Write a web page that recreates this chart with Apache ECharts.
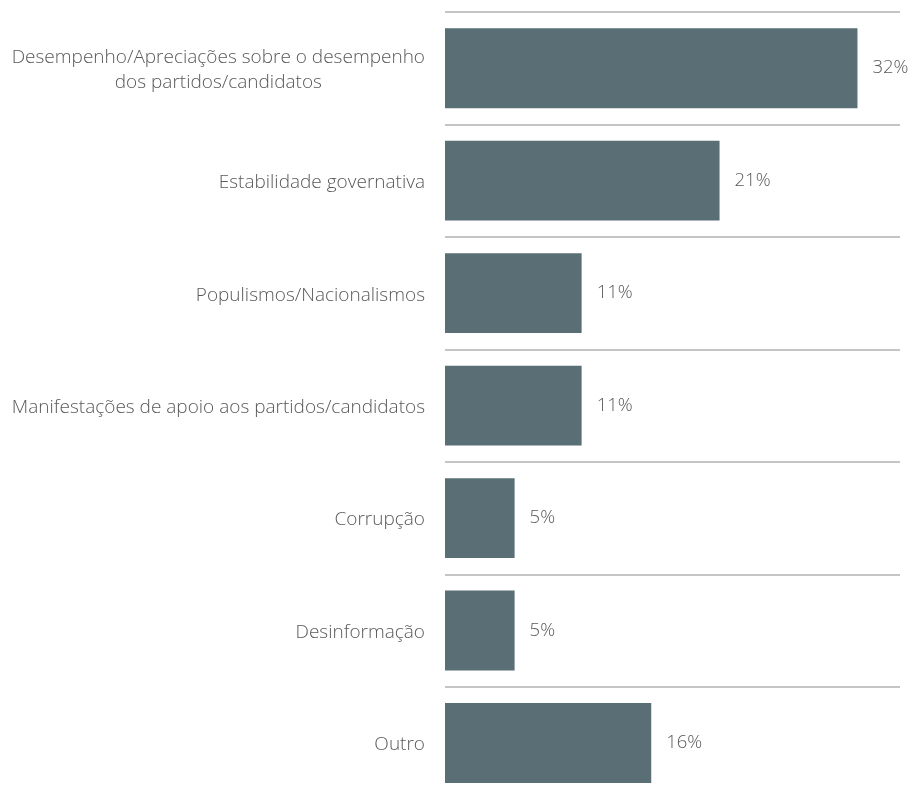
<!DOCTYPE html>
<html>
<head>
<meta charset="utf-8">
<script src="https://cdn.jsdelivr.net/npm/echarts@6/dist/echarts.min.js"></script>
<style>
html,body{margin:0;padding:0;background:#fff;overflow:hidden;height:795px;}
#chart{width:915px;height:800px;}
</style>
</head>
<body>
<div id="chart"></div>
<script>
// categorias (de cima para baixo) e valores
var categorias = [
    'Desempenho/Apreciações sobre o desempenho\ndos partidos/candidatos',
    'Estabilidade governativa',
    'Populismos/Nacionalismos',
    'Manifestações de apoio aos partidos/candidatos',
    'Corrupção',
    'Desinformação',
    'Outro'
];
var valores = [32.0, 21.3, 10.6, 10.6, 5.4, 5.4, 16.0];

// o gráfico original é cortado em baixo: a última linha fica fora da janela
var myChart = echarts.init(document.getElementById('chart'));
var option = {
    animation: false,
    grid: {
        left: 445,
        right: 15,
        top: 12,
        bottom: 0.8
    },
    xAxis: {
        type: 'value',
        min: 0,
        max: 35.3,
        show: false
    },
    yAxis: {
        type: 'category',
        inverse: true,
        data: categorias,
        axisLine: {show: false},
        axisTick: {show: false},
        splitLine: {show: true, lineStyle: {color: '#c4c4c4', width: 2}},
        axisLabel: {
            margin: 20,
            color: '#595959',
            fontFamily: 'Open Sans',
            fontWeight: 300,
            fontSize: 19,
            align: 'right',
            padding: [4, 0, 0, 0],
            formatter: function (v) {
                // linhas centradas entre si, como no original
                return v.split('\n').map(function (l) { return '{c|' + l + '}'; }).join('\n');
            },
            rich: {
                c: {
                    align: 'center',
                    color: '#595959',
                    fontFamily: 'Open Sans',
                    fontWeight: 300,
                    fontSize: 19,
                    lineHeight: 25
                }
            }
        }
    },
    series: [{
        type: 'bar',
        data: valores,
        barCategoryGap: '29%',
        itemStyle: {color: '#5a6e76'},
        label: {
            show: true,
            position: 'right',
            distance: 15,
            color: '#595959',
            fontFamily: 'Open Sans',
            fontWeight: 300,
            fontSize: 18.5,
            padding: [8, 0, 0, 0],
            formatter: function (p) { return Math.round(p.value) + '%'; }
        }
    }]
};
myChart.setOption(option);
</script>
</body>
</html>
